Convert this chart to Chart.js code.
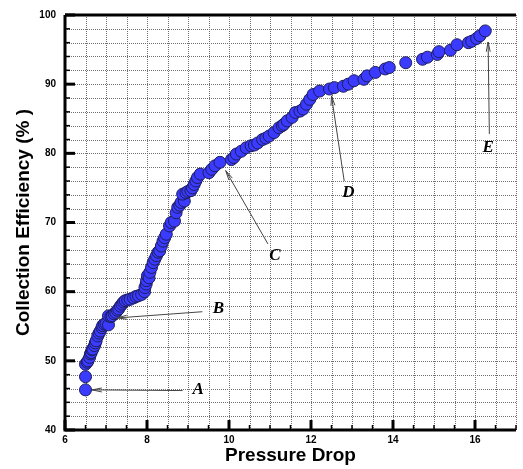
<!DOCTYPE html>
<html>
<head>
<meta charset="utf-8">
<script src="https://cdn.jsdelivr.net/npm/chart.js@4"></script>
<style>
  body { margin: 0; background: #fff; }
  canvas { display: block; }
</style>
</head>
<body>
<canvas id="effChart" width="523" height="469"></canvas>
<script>
// Pressure drop (x) and collection efficiency in % (y)
const pressureDrop = [
  6.50, 6.50, 6.50, 6.54, 6.56, 6.60, 6.62, 6.64, 6.66, 6.68,
  6.72, 6.74, 6.76, 6.80, 6.83, 6.86, 6.90, 6.92, 6.96, 7.00,
  7.06, 7.06, 7.12, 7.15, 7.20, 7.24, 7.28, 7.31, 7.35, 7.39,
  7.43, 7.47, 7.53, 7.59, 7.67, 7.73, 7.79, 7.87, 7.94, 7.95,
  7.98, 7.99, 8.01, 8.05, 8.07, 8.11, 8.15, 8.19, 8.23, 8.27,
  8.31, 8.35, 8.39, 8.43, 8.47, 8.55, 8.59, 8.67, 8.71, 8.75,
  8.80, 8.83, 8.91, 8.87, 8.95, 9.00, 9.07, 9.11, 9.15, 9.19,
  9.23, 9.30, 9.51, 9.58, 9.66, 9.78, 10.06, 10.12, 10.18, 10.30,
  10.42, 10.54, 10.62, 10.70, 10.82, 10.90, 10.98, 11.10, 11.22, 11.30,
  11.34, 11.42, 11.54, 11.62, 11.73, 11.81, 11.89, 11.97, 12.05, 12.21,
  12.45, 12.57, 12.79, 12.91, 13.05, 13.29, 13.37, 13.57, 13.81, 13.91,
  14.31, 14.72, 14.84, 15.08, 15.12, 15.40, 15.56, 15.84, 15.92, 16.04,
  16.12, 16.25
];
const efficiency = [
  45.8, 47.7, 49.5, 49.8, 50.0, 50.5, 51.0, 51.2, 51.6, 51.7,
  52.2, 52.6, 52.9, 53.6, 54.0, 54.3, 54.8, 55.1, 55.3, 55.4,
  55.2, 56.5, 56.4, 56.5, 56.8, 57.0, 57.3, 57.5, 57.9, 58.2,
  58.5, 58.7, 58.8, 58.9, 59.1, 59.3, 59.4, 59.6, 60.0, 60.6,
  61.1, 61.6, 62.3, 62.0, 62.8, 63.5, 64.2, 64.7, 65.2, 65.7,
  65.9, 66.6, 67.3, 67.8, 68.3, 69.5, 70.0, 70.2, 71.4, 72.2,
  72.5, 72.9, 73.1, 74.1, 74.3, 74.5, 74.6, 75.0, 75.5, 76.0,
  76.5, 77.0, 77.2, 77.7, 78.2, 78.7, 79.1, 79.4, 79.9, 80.3,
  80.8, 81.1, 81.2, 81.5, 82.0, 82.2, 82.5, 83.0, 83.7, 84.0,
  84.2, 84.7, 85.2, 85.9, 86.1, 86.4, 87.1, 87.8, 88.5, 89.0,
  89.3, 89.5, 89.7, 90.0, 90.5, 90.7, 91.2, 91.7, 92.2, 92.4,
  93.1, 93.6, 93.9, 94.3, 94.7, 94.9, 95.7, 96.0, 96.2, 96.6,
  97.0, 97.7
];

// Letter callouts (data units): label position, arrow tail, arrow tip
const calloutLabels = ['A', 'B', 'C', 'D', 'E'];
const calloutTextX = [9.25, 9.74, 11.12, 12.91, 16.32];
const calloutTextY = [45.9, 57.5, 65.2, 74.3, 80.8];
const calloutFromX = [8.87, 9.35, 10.95, 12.81, 16.35];
const calloutFromY = [45.7, 57.1, 66.9, 76.0, 82.8];
const calloutToX = [6.66, 7.27, 9.92, 12.50, 16.32];
const calloutToY = [45.8, 56.2, 77.5, 88.3, 96.1];

const points = pressureDrop.map((x, i) => ({ x: x, y: efficiency[i] }));

// dotted grid at every tick, drawn before the points
const dottedGrid = {
  id: 'dottedGrid',
  beforeDatasetsDraw(chart) {
    const { ctx, chartArea: a, scales: { x, y } } = chart;
    ctx.save();
    ctx.strokeStyle = '#707070';
    ctx.lineWidth = 1;
    ctx.setLineDash([1, 1]);
    x.ticks.forEach(t => {
      const px = Math.round(x.getPixelForValue(t.value)) + 0.5;
      ctx.beginPath();
      ctx.moveTo(px, a.top);
      ctx.lineTo(px, a.bottom);
      ctx.stroke();
    });
    y.ticks.forEach(t => {
      const py = Math.round(y.getPixelForValue(t.value)) + 0.5;
      ctx.beginPath();
      ctx.moveTo(a.left, py);
      ctx.lineTo(a.right, py);
      ctx.stroke();
    });
    ctx.restore();
  }
};

// Axis frame with inward ticks, plus the lettered arrows
const framePlugin = {
  id: 'frame',
  afterDatasetsDraw(chart) {
    const { ctx, chartArea: a, scales: { x, y } } = chart;
    ctx.save();
    ctx.strokeStyle = '#000';

    x.ticks.forEach(t => {
      const px = x.getPixelForValue(t.value);
      const major = t.value % 2 === 0;
      ctx.lineWidth = major ? 3 : 1.5;
      ctx.beginPath();
      ctx.moveTo(px, a.bottom);
      ctx.lineTo(px, a.bottom - (major ? 10 : 5));
      ctx.stroke();
    });
    y.ticks.forEach(t => {
      const py = y.getPixelForValue(t.value);
      const major = t.value % 10 === 0;
      ctx.lineWidth = major ? 3 : 1.5;
      ctx.beginPath();
      ctx.moveTo(a.left, py);
      ctx.lineTo(a.left + (major ? 10 : 5), py);
      ctx.stroke();
    });

    ctx.lineWidth = 3;
    ctx.beginPath();
    ctx.moveTo(a.left, a.top);
    ctx.lineTo(a.right, a.top);
    ctx.moveTo(a.left, a.top);
    ctx.lineTo(a.left, a.bottom);
    ctx.lineTo(a.right, a.bottom);
    ctx.stroke();

    // callouts
    ctx.strokeStyle = '#444';
    ctx.lineWidth = 1;
    calloutLabels.forEach((lab, i) => {
      const x0 = x.getPixelForValue(calloutFromX[i]);
      const y0 = y.getPixelForValue(calloutFromY[i]);
      const x1 = x.getPixelForValue(calloutToX[i]);
      const y1 = y.getPixelForValue(calloutToY[i]);
      const ang = Math.atan2(y1 - y0, x1 - x0);
      ctx.beginPath();
      ctx.moveTo(x0, y0);
      ctx.lineTo(x1, y1);
      [0.2, -0.2].forEach(d => {
        ctx.moveTo(x1, y1);
        ctx.lineTo(x1 - 10 * Math.cos(ang + d), y1 - 10 * Math.sin(ang + d));
      });
      ctx.stroke();

      ctx.fillStyle = '#000';
      ctx.font = 'italic bold 17px "Liberation Serif", "Times New Roman", serif';
      ctx.textAlign = 'center';
      ctx.textBaseline = 'middle';
      ctx.fillText(lab, x.getPixelForValue(calloutTextX[i]), y.getPixelForValue(calloutTextY[i]));
    });
    ctx.restore();
  }
};

const tickFont = { family: '"Liberation Sans", Arial, sans-serif', size: 10, weight: 'bold' };
const titleFont = { family: '"Liberation Sans", Arial, sans-serif', size: 19, weight: 'bold' };

new Chart(document.getElementById('effChart').getContext('2d'), {
  type: 'scatter',
  data: {
    datasets: [{
      data: points,
      pointRadius: 6,
      pointBackgroundColor: '#3b3bff',
      pointBorderColor: '#1c1c5c',
      pointBorderWidth: 1
    }]
  },
  options: {
    responsive: false,
    animation: false,
    devicePixelRatio: 1,
    layout: { padding: { top: 14, right: 0, left: 0, bottom: 0 } },
    plugins: {
      legend: { display: false },
      tooltip: { enabled: false }
    },
    scales: {
      x: {
        type: 'linear',
        min: 6,
        max: 17,
        afterFit: s => { s.height = 39; },
        ticks: {
          stepSize: 0.5,
          autoSkip: false,
          maxRotation: 0,
          padding: 4,
          color: '#000',
          font: tickFont,
          callback: v => (v % 2 === 0 ? v : '')
        },
        grid: { display: false, drawTicks: false },
        border: { display: false },
        title: {
          display: true,
          text: 'Pressure Drop',
          color: '#000',
          font: titleFont,
          padding: { top: 0, bottom: 2 }
        }
      },
      y: {
        min: 40,
        max: 100,
        afterFit: s => { s.width = 65; },
        ticks: {
          stepSize: 2,
          autoSkip: false,
          padding: 9,
          color: '#000',
          font: tickFont,
          callback: v => (v % 10 === 0 ? v : '')
        },
        grid: { display: false, drawTicks: false },
        border: { display: false },
        title: {
          display: true,
          text: 'Collection Efficiency (% )',
          color: '#000',
          font: titleFont,
          padding: { top: 12, bottom: 0 }
        }
      }
    }
  },
  plugins: [dottedGrid, framePlugin]
});
</script>
</body>
</html>
